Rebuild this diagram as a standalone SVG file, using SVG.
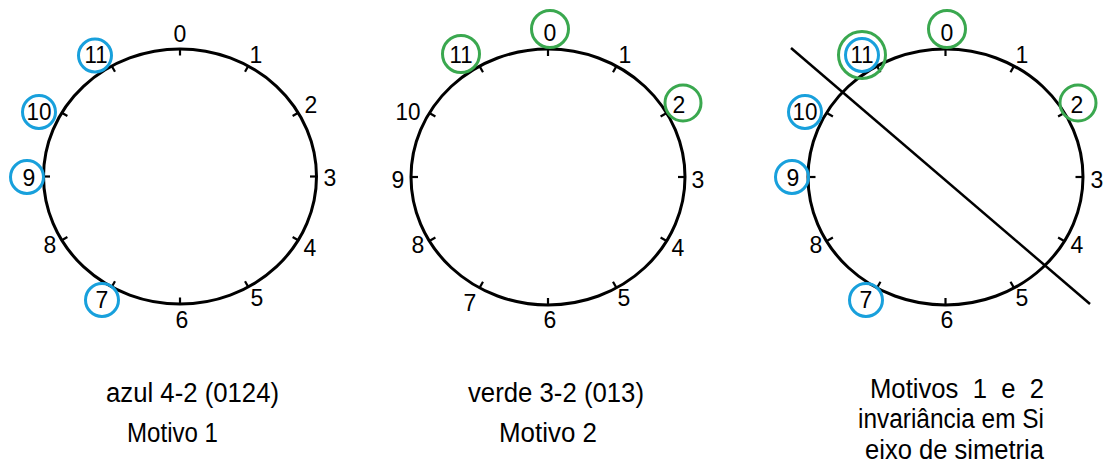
<svg xmlns="http://www.w3.org/2000/svg" width="1104" height="475" viewBox="0 0 1104 475">
<style>
.dial{fill:none;stroke:#000;stroke-width:3}
.tk{stroke:#000;stroke-width:2.2}
.b{fill:none;stroke:#18a0dc;stroke-width:3}
.g{fill:none;stroke:#3aa84f;stroke-width:3}
.axis{stroke:#000;stroke-width:2.5;fill:none}
</style>
<defs>
<g id="ticks">
<line class="tk" x1="0" y1="-128" x2="0" y2="-121"/>
<line class="tk" x1="68.5" y1="-110.85" x2="65" y2="-104.8"/>
<line class="tk" x1="118.65" y1="-64" x2="112.6" y2="-60.5"/>
<line class="tk" x1="137" y1="0" x2="130" y2="0"/>
<line class="tk" x1="118.65" y1="64" x2="112.6" y2="60.5"/>
<line class="tk" x1="68.5" y1="110.85" x2="65" y2="104.8"/>
<line class="tk" x1="0" y1="128" x2="0" y2="121"/>
<line class="tk" x1="-68.5" y1="110.85" x2="-65" y2="104.8"/>
<line class="tk" x1="-118.65" y1="64" x2="-112.6" y2="60.5"/>
<line class="tk" x1="-137" y1="0" x2="-130" y2="0"/>
<line class="tk" x1="-118.65" y1="-64" x2="-112.6" y2="-60.5"/>
<line class="tk" x1="-68.5" y1="-110.85" x2="-65" y2="-104.8"/>
</g>
</defs>
<rect width="1104" height="475" fill="#fff"/>

<g id="dial1" font-family="Liberation Sans, Arial, sans-serif" font-size="23" text-anchor="middle" fill="#000">
<ellipse class="dial" cx="180" cy="176.5" rx="136.5" ry="127.5"/>
<use href="#ticks" x="180" y="176.5"/>
<text x="180" y="42">0</text>
<text x="256" y="63">1</text>
<text x="311" y="113">2</text>
<text x="330" y="186">3</text>
<text x="310" y="256">4</text>
<text x="257" y="306">5</text>
<text x="182" y="328">6</text>
<text x="102" y="308">7</text>
<text x="50" y="253">8</text>
<text x="29" y="186">9</text>
<text x="39" y="120" textLength="25" lengthAdjust="spacingAndGlyphs">10</text>
<text x="96" y="63" textLength="23" lengthAdjust="spacingAndGlyphs">11</text>
<circle class="b" cx="95" cy="55.5" r="16.5"/>
<circle class="b" cx="39" cy="112" r="16.5"/>
<circle class="b" cx="27" cy="177" r="16.5"/>
<circle class="b" cx="102" cy="300" r="16.5"/>
</g>

<g id="dial2" font-family="Liberation Sans, Arial, sans-serif" font-size="23" text-anchor="middle" fill="#000">
<ellipse class="dial" cx="548" cy="177" rx="137" ry="128"/>
<use href="#ticks" x="548" y="177"/>
<text x="550" y="41">0</text>
<text x="625" y="63">1</text>
<text x="679" y="113">2</text>
<text x="698" y="188">3</text>
<text x="678" y="256">4</text>
<text x="624" y="306">5</text>
<text x="550" y="328">6</text>
<text x="470" y="311">7</text>
<text x="418" y="253">8</text>
<text x="398" y="188">9</text>
<text x="408" y="120" textLength="25" lengthAdjust="spacingAndGlyphs">10</text>
<text x="461" y="63" textLength="23" lengthAdjust="spacingAndGlyphs">11</text>
<circle class="g" cx="550" cy="29" r="18.5"/>
<circle class="g" cx="461" cy="54" r="18.5"/>
<circle class="g" cx="683" cy="103" r="18"/>
</g>

<g id="dial3" font-family="Liberation Sans, Arial, sans-serif" font-size="23" text-anchor="middle" fill="#000">
<ellipse class="dial" cx="945.5" cy="177" rx="137.5" ry="128"/>
<use href="#ticks" x="945.5" y="177"/>
<text x="947" y="41">0</text>
<text x="1022" y="63">1</text>
<text x="1077" y="113">2</text>
<text x="1097" y="188">3</text>
<text x="1077" y="253">4</text>
<text x="1022" y="306">5</text>
<text x="947" y="328">6</text>
<text x="866" y="308">7</text>
<text x="816" y="253">8</text>
<text x="793" y="186">9</text>
<text x="805" y="120" textLength="25" lengthAdjust="spacingAndGlyphs">10</text>
<text x="862" y="63" textLength="23" lengthAdjust="spacingAndGlyphs">11</text>
<circle class="g" cx="947" cy="29" r="18.5"/>
<circle class="g" cx="1078" cy="103" r="18"/>
<circle class="g" cx="862" cy="55" r="23.5"/>
<circle class="b" cx="862" cy="55" r="16.5"/>
<circle class="b" cx="805" cy="112" r="16.5"/>
<circle class="b" cx="792" cy="177" r="16.5"/>
<circle class="b" cx="866" cy="300" r="16.5"/>
</g>

<g id="connectors">
<line class="axis" x1="791" y1="48" x2="1090" y2="304"/>
</g>

<g id="captions" font-family="Liberation Sans, Arial, sans-serif" font-size="27" fill="#000">
<text x="106" y="402" textLength="173" lengthAdjust="spacingAndGlyphs">azul 4-2 (0124)</text>
<text x="127" y="442" textLength="91" lengthAdjust="spacingAndGlyphs">Motivo 1</text>
<text x="468" y="402" textLength="176" lengthAdjust="spacingAndGlyphs">verde 3-2 (013)</text>
<text x="499" y="442" textLength="98" lengthAdjust="spacingAndGlyphs">Motivo 2</text>
<text x="870" y="398" textLength="174" lengthAdjust="spacingAndGlyphs" xml:space="preserve">Motivos  1  e  2</text>
<text x="858" y="428" textLength="186" lengthAdjust="spacingAndGlyphs">invariância em Si</text>
<text x="865" y="459" textLength="179" lengthAdjust="spacingAndGlyphs">eixo de simetria</text>
</g>
</svg>
